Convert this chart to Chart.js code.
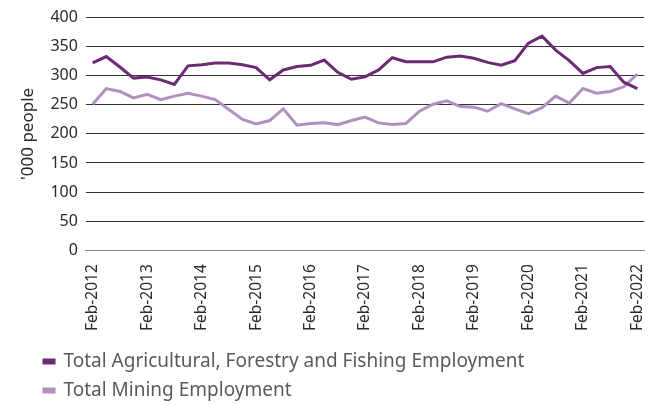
<!DOCTYPE html>
<html>
<head>
<meta charset="utf-8">
<script src="https://cdn.jsdelivr.net/npm/chart.js@4"></script>
<style>
  html, body { margin: 0; padding: 0; background: #fff; }
  #wrap { width: 662px; height: 405px; }
</style>
</head>
<body>
<div id="wrap"><canvas id="myChart" width="662" height="405"></canvas></div>
<script>
const years = [2012, 2013, 2014, 2015, 2016, 2017, 2018, 2019, 2020, 2021, 2022];
const quarters = ['Feb', 'May', 'Aug', 'Nov'];

// quarterly labels, Feb-2012 .. Feb-2022
const labels = [];
years.forEach(y => quarters.forEach(q => {
    if (y < 2022 || q === 'Feb') labels.push(q + '-' + y);
}));

const agriculture = [322, 333, 315, 296, 298, 293, 285, 317, 319, 322, 322, 319, 314, 293, 310, 316, 318, 327, 306, 294, 298,
    310, 331, 324, 324, 324, 332, 334, 330, 323, 318, 326, 356, 368, 344, 326, 304, 314, 316, 289, 278];
const mining = [251, 278, 273, 262, 268, 259, 265, 270, 265, 259, 242, 225, 217, 223, 243, 215, 218, 219, 216, 223, 229,
    219, 216, 218, 239, 251, 257, 247, 246, 239, 252, 243, 235, 245, 265, 253, 278, 270, 273, 281, 303];

const seriesNames = ['Total Agricultural, Forestry and Fishing Employment', 'Total Mining Employment'];
const yTicks = [0, 50, 100, 150, 200, 250, 300, 350, 400];

const font = '"Noto Sans", sans-serif';

// nudge the legend right and down, like the original
const shiftLegend = {
    id: 'shiftLegend',
    afterLayout(chart) {
        const lg = chart.legend;
        lg.left += 16;
        lg.right += 16;
        lg.top += 5;
        lg.bottom += 5;
    }
};

const data = {
    labels: labels,
    datasets: [{
        label: seriesNames[0],
        data: agriculture,
        borderColor: 'rgb(108, 42, 116)',
        backgroundColor: 'rgb(108, 42, 116)',
        borderWidth: 3,
        pointRadius: 0,
        tension: 0
    }, {
        label: seriesNames[1],
        data: mining,
        borderColor: 'rgb(178, 144, 190)',
        backgroundColor: 'rgb(178, 144, 190)',
        borderWidth: 3,
        pointRadius: 0,
        tension: 0
    }]
};

const options = {
    responsive: false,
    animation: false,
    layout: { padding: { top: 8, right: 2, left: 18, bottom: 0 } },
    plugins: {
        legend: {
            position: 'bottom',
            align: 'start',
            labels: {
                boxWidth: 10,
                boxHeight: 3,
                padding: 10,
                color: '#5a5a5a',
                font: { family: font, size: 19 }
            }
        },
        tooltip: { enabled: false }
    },
    scales: {
        x: {
            offset: true,
            grid: { display: false },
            border: { display: true, color: '#8c8c8c', width: 1 },
            ticks: {
                autoSkip: false,
                maxRotation: 90,
                minRotation: 90,
                color: '#2a2a2a',
                padding: 6,
                font: { family: font, size: 15.5 },
                callback: function(val, i) {
                    return i % 4 === 0 ? labels[i] : '';
                }
            }
        },
        y: {
            min: 0,
            max: 400,
            afterBuildTicks: function(axis) {
                axis.ticks = yTicks.map(v => ({ value: v }));
            },
            border: { display: false },
            grid: {
                color: ctx => ctx.tick && ctx.tick.value === 0 ? '#8c8c8c' : '#333',
                drawTicks: false
            },
            ticks: {
                color: '#2a2a2a',
                padding: 8,
                font: { family: font, size: 16 }
            },
            title: {
                display: true,
                text: "'000 people",
                color: '#2a2a2a',
                padding: { top: 0, bottom: 4 },
                font: { family: font, size: 17 }
            }
        }
    }
};

const myChart = new Chart(
    document.getElementById('myChart'),
    { type: 'line', data, options, plugins: [shiftLegend] }
);
</script>
</body>
</html>
